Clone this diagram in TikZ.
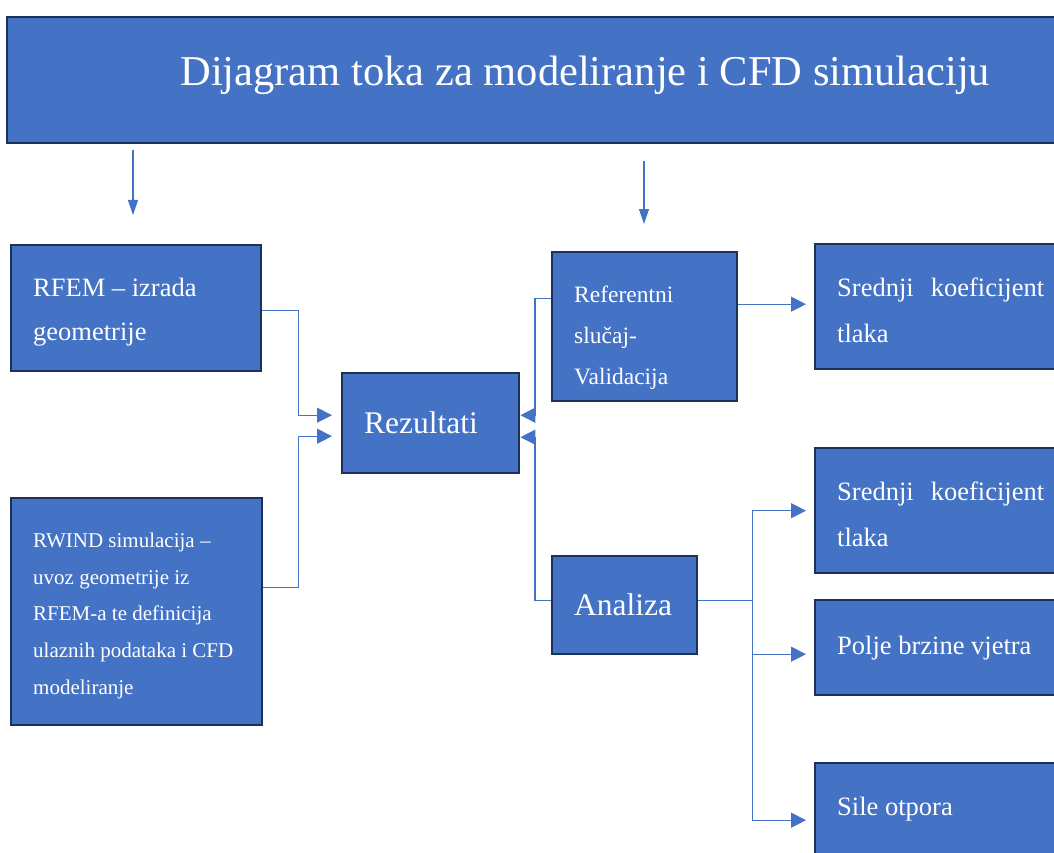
\documentclass[tikz,border=0pt]{standalone}
\usepackage{fontspec}
\setmainfont{Liberation Serif}
\usepackage{tikz}
\usetikzlibrary{arrows.meta,calc}
\definecolor{plava}{HTML}{4472C4}
\definecolor{tamna}{HTML}{1B3158}
\tikzset{
  blok/.style={draw=tamna,fill=plava,line width=2.4pt,text=white,anchor=north west,
    inner xsep=22pt,inner ysep=0pt,align=flush left},
  veza/.style={-{Triangle[length=15pt,width=15pt]},plava,line width=1.3pt},
  niz/.style={-{Triangle[length=15pt,width=10pt]},plava,line width=1.1pt},
}
\newcommand{\podig}[1]{\rule{0pt}{#1}}

\begin{document}
\begin{tikzpicture}[x=1pt,y=-1pt]
  \useasboundingbox (0,0) rectangle (1054,853);
  % naslov
  \node[blok,minimum width=1156,minimum height=126,text depth=19pt,align=center,
    font=\fontsize{42.5}{48}\selectfont] (naslov) at (6,16)
    {Dijagram toka za modeliranje i CFD simulaciju};
  \coordinate (g1) at (133,150);
  \coordinate (d1) at (133,215);
  \coordinate (g2) at (644,161);
  \coordinate (d2) at (644,224);
  \draw[niz] (g1) -- (d1);
  \draw[niz] (g2) -- (d2);
  % lijeva strana
  \node[blok,minimum width=250,minimum height=126,text width=206pt,
    font=\fontsize{26.5}{44}\selectfont] (rfem) at (10,244)
    {\podig{26pt}RFEM -- izrada\\geometrije};
  \node[blok,minimum width=251,minimum height=227,text width=207pt,
    font=\fontsize{21}{36.7}\selectfont] (rwind) at (10,497)
    {\podig{22.5pt}RWIND simulacija --\\uvoz geometrije iz\\RFEM-a te definicija\\ulaznih podataka i CFD\\modeliranje};
  \node[blok,minimum width=177,minimum height=100,text width=133pt,
    font=\fontsize{31.5}{36}\selectfont] (rez) at (341,372) {Rezultati};
  % sredina
  \node[blok,minimum width=185,minimum height=149,text width=141pt,
    font=\fontsize{23.5}{41}\selectfont] (ref) at (551,251)
    {\podig{38pt}Referentni\\slučaj-\\Validacija};
  \node[blok,minimum width=145,minimum height=98,text width=101pt,
    font=\fontsize{31.5}{36}\selectfont] (ana) at (551,555) {Analiza};
  % desna strana
  \node[blok,minimum width=251,minimum height=125,text width=207pt,
    font=\fontsize{26.5}{46}\selectfont] (sr1) at (814,243)
    {\podig{26pt}Srednji\hfill koeficijent\\tlaka};
  \node[blok,minimum width=251,minimum height=125,text width=207pt,
    font=\fontsize{26.5}{46}\selectfont] (sr2) at (814,447)
    {\podig{26pt}Srednji\hfill koeficijent\\tlaka};
  \node[blok,minimum width=251,minimum height=95,text width=207pt,
    font=\fontsize{26.5}{32}\selectfont] (polje) at (814,599) {Polje brzine vjetra};
  \node[blok,minimum width=251,minimum height=110,text width=207pt,text depth=24pt,
    font=\fontsize{26.5}{32}\selectfont] (sile) at (814,762) {Sile otpora};
  % veze
  \draw[veza,shorten >=9pt] ([yshift=-2pt]rfem.east) -- ++(36,0) |- ([yshift=8pt]rez.west);
  \draw[veza,shorten >=9pt] ([yshift=24.5pt]rwind.east) -- ++(35,0) |- ([yshift=-13pt]rez.west);
  \draw[veza] ([yshift=28.5pt]ref.west) -- ++(-16,0) |- ([yshift=8pt]rez.east);
  \draw[veza] ([yshift=5pt]ana.west) -- ++(-16,0) |- ([yshift=-14pt]rez.east);
  \draw[veza,shorten >=8pt] ([yshift=22.5pt]ref.east) -- ([yshift=22.5pt]ref.east -| sr1.west);
  \draw[plava,line width=1.3pt] ([yshift=5pt]ana.east) -- ++(54,0) coordinate (cvor);
  \draw[veza,shorten >=8pt] (cvor) |- (sr2.west);
  \draw[veza,shorten >=8pt] (cvor) |- ([yshift=-6.5pt]polje.west);
  \draw[veza,shorten >=8pt] (cvor) |- ([yshift=-2pt]sile.west);
\end{tikzpicture}
\end{document}
